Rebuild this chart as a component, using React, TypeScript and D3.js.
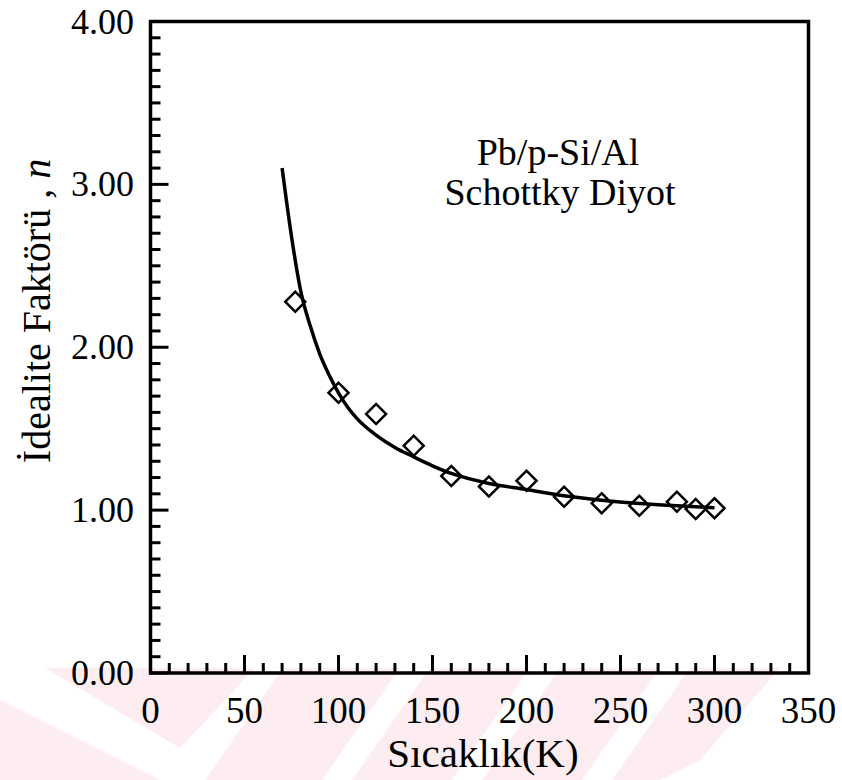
import React from "react";
import * as d3 from "d3";

// Measured data (diamonds)
const temps = [77, 100, 120, 140, 160, 180, 200, 220, 240, 260, 280, 290, 300];
const ideality = [2.28, 1.72, 1.59, 1.395, 1.21, 1.145, 1.18, 1.082, 1.042, 1.027, 1.052, 1.007, 1.011];

// Fitted curve (solid line)
const fitTemps = [70, 75, 80, 85, 90, 95, 100, 105, 110, 120, 130, 140, 150, 160, 180, 200, 220, 240, 260, 280, 300];
const fitIdeality = [3.1, 2.68, 2.34, 2.13, 1.96, 1.83, 1.72, 1.63, 1.56, 1.46, 1.385, 1.327, 1.272, 1.225, 1.164, 1.127, 1.088, 1.061, 1.041, 1.027, 1.014];

const xTickValues = [0, 50, 100, 150, 200, 250, 300, 350];
const yTickValues = [0, 1, 2, 3, 4];
const yTickLabels = ["0.00", "1.00", "2.00", "3.00", "4.00"];

const xTitle = "Sıcaklık(K)";
const yTitle = "İdealite Faktörü , ";
const yTitleItalic = "n";
const noteLines = ["Pb/p-Si/Al", "Schottky Diyot"];

// faint watermark decoration (not data)
const watermark: [number, number][][] = [
  [[0, 700], [160, 780], [0, 780]],
  [[45, 668], [255, 668], [180, 748]],
  [[205, 780], [283, 668], [400, 668], [322, 780]],
  [[352, 780], [430, 668], [530, 668], [452, 780]],
  [[482, 780], [560, 668], [660, 668], [582, 780]],
  [[612, 780], [690, 668], [780, 668], [700, 760], [660, 780]],
];

const W = 842;
const H = 780;
const FONT = "'Liberation Serif', 'Times New Roman', serif";

export default function App() {
  const x = d3.scaleLinear().domain([0, 350]).range([150.5, 808.5]);
  const y = d3.scaleLinear().domain([0, 4]).range([673, 21.5]);

  const fitLine = d3
    .line<number>()
    .x((_, i) => x(fitTemps[i]))
    .y((d) => y(d))
    .curve(d3.curveMonotoneX);

  const xMinor = d3.range(0, 351, 10);
  const yMinor = d3.range(0, 41, 1).map((v) => v / 10);

  const diamond = d3.symbol().type(d3.symbolSquare).size(200)();

  return (
    <svg
      width={W}
      height={H}
      style={{ position: "absolute", left: 0, top: 0, background: "#fff" }}
      fontFamily={FONT}
    >
      <rect width={W} height={H} fill="#fff" />
      <g fill="#fdedf0">
        {watermark.map((p, i) => (
          <polygon key={i} points={p.map((q) => q.join(",")).join(" ")} />
        ))}
      </g>

      {/* ticks */}
      <g stroke="#000" strokeWidth={3}>
        {xMinor.map((v) => {
          const major = v % 50 === 0;
          return (
            <line key={"xm" + v} x1={x(v)} x2={x(v)} y1={y(0)} y2={y(0) - (major ? 18 : 10)} />
          );
        })}
        {yMinor.map((v, i) => {
          const major = i % 10 === 0;
          return (
            <line key={"ym" + i} x1={x(0)} x2={x(0) + (major ? 18 : 10)} y1={y(v)} y2={y(v)} />
          );
        })}
      </g>

      {/* frame */}
      <rect
        x={x(0)}
        y={y(4)}
        width={x(350) - x(0)}
        height={y(0) - y(4)}
        fill="none"
        stroke="#000"
        strokeWidth={3.5}
      />

      {/* fit curve */}
      <path d={fitLine(fitIdeality) || ""} fill="none" stroke="#000" strokeWidth={3.5} />

      {/* data diamonds */}
      <g fill="none" stroke="#000" strokeWidth={2.5}>
        {temps.map((t, i) => (
          <path key={i} d={diamond || ""} transform={`translate(${x(t)},${y(ideality[i])}) rotate(45)`} />
        ))}
      </g>

      {/* tick labels */}
      <g fontSize={36} fill="#000">
        {yTickValues.map((v, i) => (
          <text key={"yl" + v} x={134} y={y(v) + 12} textAnchor="end">
            {yTickLabels[i]}
          </text>
        ))}
      </g>
      <g fontSize={37} fill="#000">
        {xTickValues.map((v) => (
          <text key={"xl" + v} x={x(v)} y={723} textAnchor="middle">
            {v}
          </text>
        ))}
      </g>

      {/* axis titles */}
      <text x={483} y={767} textAnchor="middle" fontSize={41}>
        {xTitle}
      </text>
      <text transform="translate(50,311) rotate(-90)" textAnchor="middle" fontSize={40}>
        {yTitle}
        <tspan fontStyle="italic">{yTitleItalic}</tspan>
      </text>

      {/* annotation */}
      <g fontSize={38} textAnchor="middle">
        <text x={558} y={165}>{noteLines[0]}</text>
        <text x={560} y={205}>{noteLines[1]}</text>
      </g>
    </svg>
  );
}
